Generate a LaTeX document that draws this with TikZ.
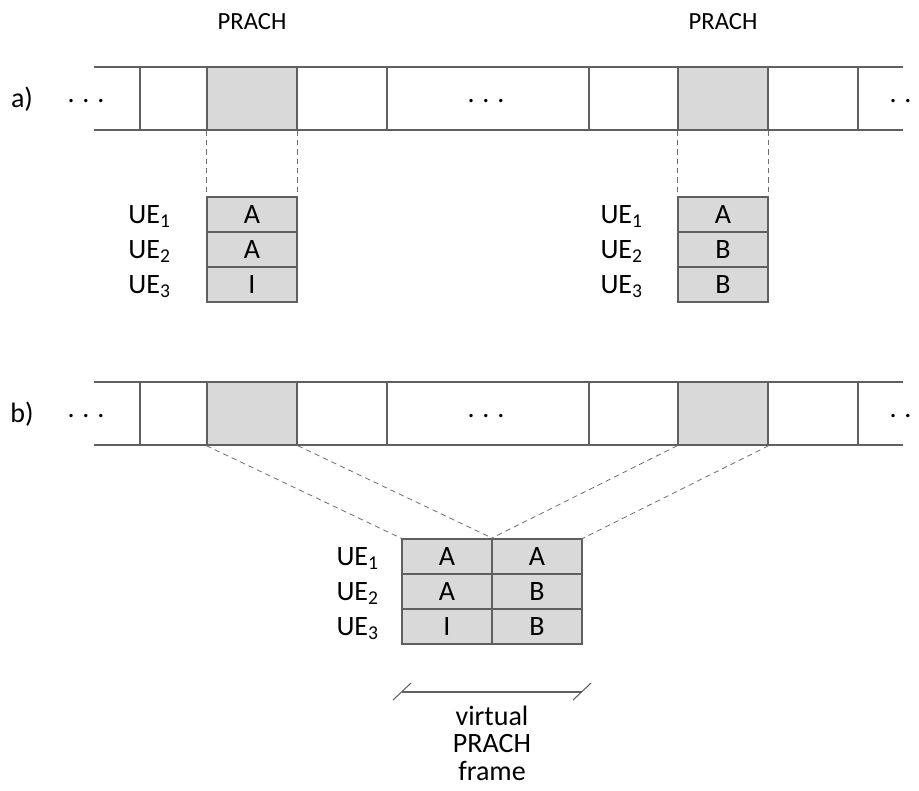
\documentclass[tikz,border=0pt]{standalone}
\usepackage{fontspec}
\setmainfont{Carlito}
\definecolor{cellgray}{RGB}{217,217,217}
\definecolor{edgegray}{RGB}{96,96,96}
\definecolor{guidegray}{RGB}{110,110,110}
\begin{document}
\begin{tikzpicture}[x=0.75pt,y=-0.75pt,
  every node/.style={font=\fontsize{21}{25}\selectfont, text=black},
  frameline/.style={draw=edgegray, line width=1pt},
  slot/.style={draw=edgegray, line width=1pt, fill=cellgray,
    minimum width=67.5pt, minimum height=47.25pt, inner sep=0pt},
  cell/.style={draw=edgegray, line width=1pt, fill=cellgray,
    minimum width=67.5pt, minimum height=26.25pt, inner sep=0pt},
  uelabel/.style={anchor=base east, inner sep=0pt},
  guide/.style={draw=guidegray, line width=0.6pt, dash pattern=on 4pt off 3pt},
  dotsnode/.style={inner sep=0pt, anchor=base},
  rowlabel/.style={inner sep=0pt, anchor=base},
  toplabel/.style={font=\fontsize{18.5}{22}\selectfont, inner sep=0pt},
  spanline/.style={draw=edgegray, line width=0.8pt}
]
\clip (0,0) rectangle (919,790);

% ---------- a) frame sequence ----------
\foreach \y in {67,130} \draw[frameline] (94,\y) -- (903,\y);
\foreach \x in {140,387,589,858} \draw[frameline] (\x,67) -- (\x,130);
\node[slot] (pa1) at (252,98.5) {};
\node[slot] (pa2) at (723,98.5) {};
\node[dotsnode] (da1) at (86,102) {.\hspace{5.9pt}.\hspace{5.9pt}.};
\node[dotsnode] (da2) at (486,102) {.\hspace{5.9pt}.\hspace{5.9pt}.};
\node[dotsnode] (da3) at (908,102) {.\hspace{5.9pt}.\hspace{5.9pt}.};
\node[rowlabel] (la) at (22,107) {a)};
\node[toplabel] (lp1) at (252,22) {PRACH};
\node[toplabel] (lp2) at (723,22) {PRACH};

% preamble tables under each PRACH slot
\node[cell] (ta1) at (252,214.5) {A};
\node[cell] (ta2) at (252,249.5) {A};
\node[cell] (ta3) at (252,284.5) {I};
\node[cell] (tc1) at (723,214.5) {A};
\node[cell] (tc2) at (723,249.5) {B};
\node[cell] (tc3) at (723,284.5) {B};
\node[uelabel] (ua1) at (171,223.5) {UE\textsubscript{1}};
\node[uelabel] (ua2) at (171,258.5) {UE\textsubscript{2}};
\node[uelabel] (ua3) at (171,293.5) {UE\textsubscript{3}};
\node[uelabel] (uc1) at (643,223.5) {UE\textsubscript{1}};
\node[uelabel] (uc2) at (643,258.5) {UE\textsubscript{2}};
\node[uelabel] (uc3) at (643,293.5) {UE\textsubscript{3}};

\draw[guide] (pa1.south west) -- (ta1.north west);
\draw[guide] (pa1.south east) -- (ta1.north east);
\draw[guide] (pa2.south west) -- (tc1.north west);
\draw[guide] (pa2.south east) -- (tc1.north east);

% ---------- b) frame sequence ----------
\foreach \y in {382,445} \draw[frameline] (94,\y) -- (903,\y);
\foreach \x in {140,387,589,858} \draw[frameline] (\x,382) -- (\x,445);
\node[slot] (pb1) at (252,413.5) {};
\node[slot] (pb2) at (723,413.5) {};
\node[dotsnode] (db1) at (86,417) {.\hspace{5.9pt}.\hspace{5.9pt}.};
\node[dotsnode] (db2) at (486,417) {.\hspace{5.9pt}.\hspace{5.9pt}.};
\node[dotsnode] (db3) at (908,417) {.\hspace{5.9pt}.\hspace{5.9pt}.};
\node[rowlabel] (lb) at (22,422) {b)};

% combined virtual frame table
\node[cell] (tb11) at (447,556.5) {A};
\node[cell] (tb21) at (447,591.5) {A};
\node[cell] (tb31) at (447,626.5) {I};
\node[cell] (tb12) at (537,556.5) {A};
\node[cell] (tb22) at (537,591.5) {B};
\node[cell] (tb32) at (537,626.5) {B};
\node[uelabel] (ub1) at (379,565.5) {UE\textsubscript{1}};
\node[uelabel] (ub2) at (379,600.5) {UE\textsubscript{2}};
\node[uelabel] (ub3) at (379,635.5) {UE\textsubscript{3}};

\draw[guide] (pb1.south west) -- (tb11.north west);
\draw[guide] (pb1.south east) -- (tb11.north east);
\draw[guide] (pb2.south west) -- (tb12.north west);
\draw[guide] (pb2.south east) -- (tb12.north east);

% span marker of the virtual frame
\coordinate (bl) at (402,692);
\coordinate (br) at (582,692);
\draw[spanline] (bl) -- (br);
\draw[spanline] ([shift={(-9,8)}]bl) -- ([shift={(9,-9)}]bl);
\draw[spanline] ([shift={(-9,8)}]br) -- ([shift={(9,-9)}]br);
\node[align=center, font=\fontsize{21}{20.6}\selectfont, inner sep=0pt] (vf) at (492,743) {virtual\\PRACH\\frame};
\end{tikzpicture}
\end{document}
